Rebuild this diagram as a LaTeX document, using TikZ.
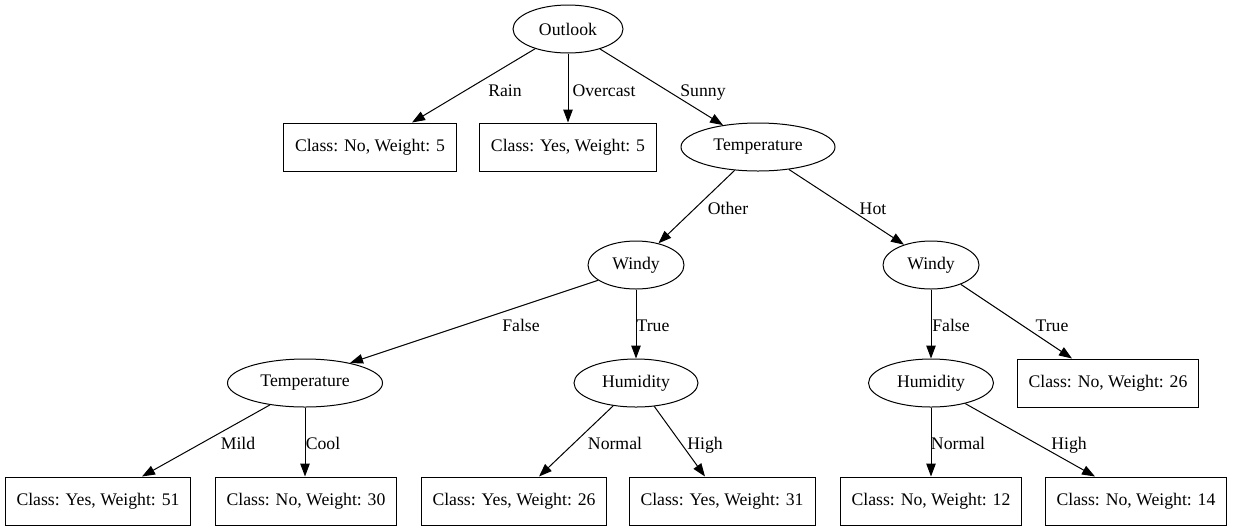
\documentclass[tikz,border=0pt]{standalone}
\usepackage{fontspec}
\setmainfont{Liberation Serif}
\usepackage{tikz}
\usetikzlibrary{shapes.geometric}
\usetikzlibrary{arrows.meta}
\usetikzlibrary{positioning}

\begin{document}
\begin{tikzpicture}[
  x=1pt, y=-1pt,
  every node/.style={font=\fontsize{17.7}{21}\selectfont},
  attr/.style={ellipse, draw, line width=1pt, inner sep=0pt, minimum height=48pt, minimum width=#1},
  leaf/.style={rectangle, draw, line width=1pt, inner xsep=11.5pt, inner ysep=0pt, minimum height=48pt},
  branch/.style={draw, line width=1pt, -{Triangle[length=13pt, width=9.5pt]}},
  lbl/.style={inner sep=0pt, text height=13pt, text depth=1pt}
]
\useasboundingbox (0,0) rectangle (1233,531);

% inner nodes
\node[attr=110] (outlook) at (568,29) {Outlook};
\node[attr=154] (temp) at (758,147) {Temperature};
\node[attr=96] (windyL) at (636,265) {Windy};
\node[attr=96] (windyR) at (931,265) {Windy};
\node[attr=155] (templo) at (305,383) {Temperature};
\node[attr=124] (humM) at (636,383) {Humidity};
\node[attr=125] (humR) at (931,383) {Humidity};

% leaves
\node[leaf] (no5) at (370,147) {Class: No, Weight: 5};
\node[leaf] (yes5) at (568,147) {Class: Yes, Weight: 5};
\node[leaf] (no26) at (1108,383) {Class: No, Weight: 26};
\node[leaf] (yes51) at (98,501) {Class: Yes, Weight: 51};
\node[leaf] (no30) at (306,501) {Class: No, Weight: 30};
\node[leaf] (yes26) at (514,501) {Class: Yes, Weight: 26};
\node[leaf] (yes31) at (722,501) {Class: Yes, Weight: 31};
\node[leaf] (no12) at (931,501) {Class: No, Weight: 12};
\node[leaf] (no14) at (1136,501) {Class: No, Weight: 14};

% branches
\draw[branch] (outlook.211) -- ([xshift=42pt]no5.north);
\draw[branch] (outlook.south) -- (yes5.north);
\draw[branch] (outlook.328) -- (temp.148);
\draw[branch] (temp.225) -- (windyL.44);
\draw[branch] (temp.324) -- (windyR.143);
\draw[branch] (windyL.202) -- (templo.24);
\draw[branch] (windyL.south) -- (humM.north);
\draw[branch] (windyR.south) -- (humR.north);
\draw[branch] (windyR.327) -- ([xshift=-36pt]no26.north);
\draw[branch] (templo.212) -- ([xshift=44pt]yes51.north);
\draw[branch] (templo.south) -- (templo.south |- no30.north);
\draw[branch] (humM.225) -- ([xshift=25pt]yes26.north);
\draw[branch] (humM.308) -- ([xshift=-17pt]yes31.north);
\draw[branch] (humR.south) -- (no12.north);
\draw[branch] (humR.329) -- ([xshift=-41pt]no14.north);

% branch labels
\node[lbl] (lRain) at (505,90) {Rain};
\node[lbl] (lOvercast) at (604,90) {Overcast};
\node[lbl] (lSunny) at (703,90) {Sunny};
\node[lbl] (lOther) at (728,208) {Other};
\node[lbl] (lHot) at (873,208) {Hot};
\node[lbl] (lFalseL) at (521,325) {False};
\node[lbl] (lTrueL) at (653,325) {True};
\node[lbl] (lFalseR) at (951,325) {False};
\node[lbl] (lTrueR) at (1052,325) {True};
\node[lbl] (lMild) at (238,443) {Mild};
\node[lbl] (lCool) at (323,443) {Cool};
\node[lbl] (lNormalM) at (615,443) {Normal};
\node[lbl] (lHighM) at (705,443) {High};
\node[lbl] (lNormalR) at (958,443) {Normal};
\node[lbl] (lHighR) at (1069,443) {High};
\end{tikzpicture}
\end{document}
